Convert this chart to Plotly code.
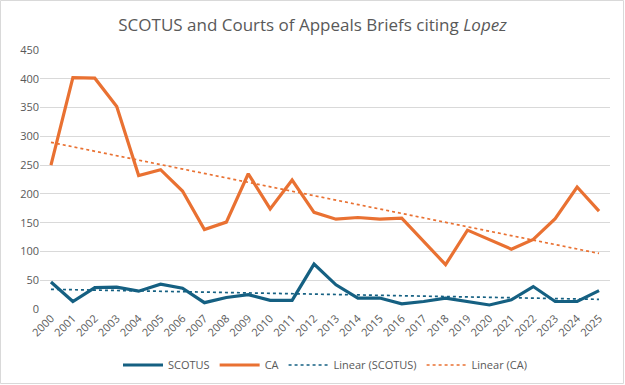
import numpy as np
import plotly.graph_objects as go

years = [str(y) for y in range(2000, 2026)]
scotus = [47, 13, 37, 38, 31, 43, 36, 11, 20, 25, 15, 15, 78, 42, 19, 19, 9, 13, 19, 13, 7, 16, 39, 13, 13, 32]
ca = [250, 402, 401, 352, 232, 242, 205, 138, 151, 235, 174, 224, 168, 156, 159, 156, 158, 118, 77, 137, 120, 104, 121, 157, 212, 170]
y_ticks = [0, 50, 100, 150, 200, 250, 300, 350, 400, 450]

idx = np.arange(len(years))
s_fit = np.polyval(np.polyfit(idx, scotus, 1), idx)
c_fit = np.polyval(np.polyfit(idx, ca, 1), idx)

BLUE = "#156082"
ORANGE = "#E97132"
GRAY = "#595959"

fig = go.Figure()
fig.add_trace(go.Scatter(x=years, y=scotus, mode="lines", name="SCOTUS",
                         line=dict(color=BLUE, width=3.2)))
fig.add_trace(go.Scatter(x=years, y=ca, mode="lines", name="CA",
                         line=dict(color=ORANGE, width=3.2)))
fig.add_trace(go.Scatter(x=years, y=s_fit, mode="lines", name="Linear (SCOTUS)",
                         line=dict(color=BLUE, width=1.7, dash="dot")))
fig.add_trace(go.Scatter(x=years, y=c_fit, mode="lines", name="Linear (CA)",
                         line=dict(color=ORANGE, width=1.7, dash="dot")))

L, R, T, B = 40, 15, 50, 76
W, H = 625, 385
pw, ph = W - L - R, H - T - B

fig.update_layout(
    width=W, height=H,
    margin=dict(l=L, r=R, t=T, b=B, autoexpand=False),
    paper_bgcolor="white", plot_bgcolor="white",
    font=dict(family="Open Sans, Liberation Sans, sans-serif", color=GRAY, size=11),
    title=dict(text="SCOTUS and Courts of Appeals Briefs citing <i>Lopez</i>",
               x=0.5, xanchor="center", y=1 - 25 / H, yanchor="middle",
               font=dict(size=17, color=GRAY)),
    showlegend=True,
    legend=dict(orientation="h", x=0.5, xanchor="center", y=(H - B - 365) / ph,
                yanchor="middle", font=dict(size=11, color=GRAY), traceorder="normal",
                itemwidth=40),
    xaxis=dict(type="category", range=[-0.5, len(years) - 0.5], tickangle=-45,
               showgrid=False, zeroline=False, automargin=False,
               showline=False, ticks="", tickfont=dict(size=11, color=GRAY)),
    yaxis=dict(range=[0, 450], tickvals=y_ticks, showgrid=True, gridcolor="#D9D9D9",
               gridwidth=1, zeroline=False, showline=False, ticks="", automargin=False,
               tickfont=dict(size=11, color=GRAY)),
    shapes=[dict(type="rect", xref="paper", yref="paper",
                 x0=(0.5 - L) / pw, x1=(623.5 - L) / pw,
                 y0=(H - B - 383.5) / ph, y1=(H - B - 0.5) / ph,
                 line=dict(color="#D9D9D9", width=1), fillcolor="rgba(0,0,0,0)",
                 layer="below")],
)

fig.write_html("out.html", config={"displayModeBar": False},
               post_script="document.body.style.margin='0';document.body.style.overflow='hidden';")
